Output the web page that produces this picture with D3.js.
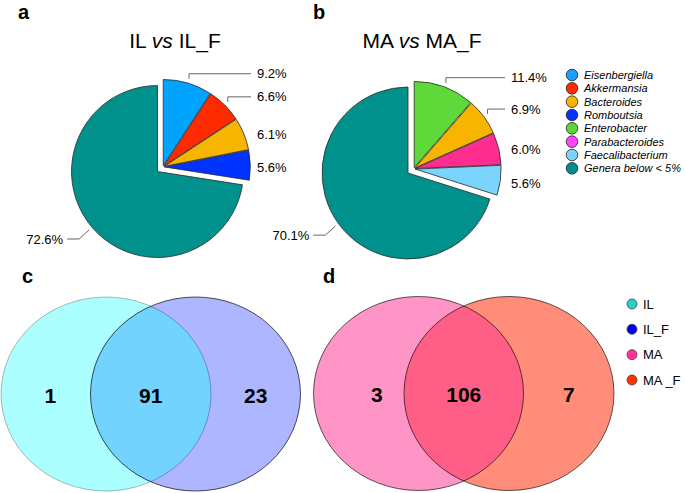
<!DOCTYPE html>
<html><head><meta charset="utf-8">
<script src="https://cdn.jsdelivr.net/npm/d3@7"></script>
<style>
html,body{margin:0;padding:0;background:#fff;}
svg{display:block;font-family:"Liberation Sans",Arial,sans-serif;}
</style></head>
<body>
<svg id="chart" width="685" height="493"></svg>
<script>
// ---------- DATA ----------
const genera = ["Eisenbergiella","Akkermansia","Bacteroides","Romboutsia","Enterobacter","Parabacteroides","Faecalibacterium","Genera below < 5%"];
const generaLegendColors = ["#1a9fff","#ff2a00","#f7b500","#0033ff","#5ed63a","#ff44ff","#7dd3fc","#008e8a"];
const generaSliceColors  = ["#00a4ff","#ff2a00","#f7b500","#0033ff","#5fd93a","#ff2d8f","#7ad4fb","#00918d"];

const pieATitle = ["IL ","vs"," IL_F"];
const pieAGenera = ["Eisenbergiella","Akkermansia","Bacteroides","Romboutsia","Genera below < 5%"];
const pieAValues = [9.2, 6.6, 6.1, 5.6, 72.6];

const pieBTitle = ["MA ","vs"," MA_F"];
const pieBGenera = ["Enterobacter","Bacteroides","Parabacteroides","Faecalibacterium","Genera below < 5%"];
const pieBValues = [11.4, 6.9, 6.0, 5.6, 70.1];

const vennCSets = ["IL","IL_F"];
const vennCCounts = [1, 91, 23];
const vennDSets = ["MA","MA _F"];
const vennDCounts = [3, 106, 7];

const vennLegendLabels = ["IL","IL_F","MA","MA _F"];
const vennLegendColors = ["#22d0d0","#0000ee","#ff3399","#ff3300"];

const panelLetters = ["a","b","c","d"];

// ---------- DRAW ----------
const svg = d3.select("#chart");
const colorOf = d3.scaleOrdinal().domain(genera).range(generaSliceColors);
const legendColorOf = d3.scaleOrdinal().domain(genera).range(generaLegendColors);
const OTHER = "Genera below < 5%";

// panel letters
const letterPos = [[18,19],[313,19],[22,283],[323,283]];
svg.selectAll("text.letter").data(panelLetters).join("text")
  .attr("class","letter")
  .attr("x",(d,i)=>letterPos[i][0]).attr("y",(d,i)=>letterPos[i][1])
  .attr("font-size",20).attr("font-weight","bold").text(d=>d);

function drawTitle(parts, cx, y){
  const t = svg.append("text").attr("x",cx).attr("y",y).attr("text-anchor","middle")
    .attr("font-size",21).attr("fill","#000");
  parts.forEach((p,i)=>t.append("tspan").attr("font-style", i===1?"italic":"normal").text(p));
}

function drawPie(names, values, cx, cy, r, labelX){
  const data = names.map((n,i)=>({name:n, v:values[i]}));
  const arcs = d3.pie().sort(null).value(d=>d.v)(data);
  const arc = d3.arc().innerRadius(0).outerRadius(r);
  const small = arcs.filter(a=>a.data.name!==OTHER);
  const gStart = small[0].startAngle, gEnd = small[small.length-1].endAngle;
  const gMid = (gStart+gEnd)/2, gOff = 7;
  const gx = Math.sin(gMid)*gOff, gy = -Math.cos(gMid)*gOff;
  const g = svg.append("g").attr("transform",`translate(${cx},${cy})`);
  const indiv = 1.5;
  g.selectAll("path").data(arcs).join("path")
    .attr("d",arc)
    .attr("transform",a=>{
      if(a.data.name===OTHER) return null;
      const m=(a.startAngle+a.endAngle)/2;
      return `translate(${gx+Math.sin(m)*indiv},${gy-Math.cos(m)*indiv})`;
    })
    .attr("fill",a=>colorOf(a.data.name))
    .attr("stroke","#2a2a2a").attr("stroke-width",0.8).attr("stroke-linejoin","round");

  // labels
  arcs.forEach(a=>{
    const m=(a.startAngle+a.endAngle)/2;
    const lbl = d3.format(".1f")(a.data.v)+"%";
    if(a.data.name===OTHER){
      const px = Math.sin(m)*(r+4), py = -Math.cos(m)*(r+4);
      const ly = py+9;
      g.append("path").attr("d",`M${px},${py}L${px-10},${ly}L${px-22},${ly}`)
        .attr("fill","none").attr("stroke","#666").attr("stroke-width",1);
      g.append("text").attr("x",px-26).attr("y",ly).attr("dy","0.35em")
        .attr("text-anchor","end").attr("font-size",13).text(lbl);
    } else {
      const px = gx+Math.sin(m)*(r+6), py = gy-Math.cos(m)*(r+6);
      const lx = labelX - cx;
      let ly;
      if(lx-px>10){
        ly = py-5;
        g.append("path").attr("d",`M${px},${py}L${px},${ly}L${lx-6},${ly}`)
          .attr("fill","none").attr("stroke","#666").attr("stroke-width",1);
      } else {
        ly = py+2;
      }
      g.append("text").attr("x",lx).attr("y",ly).attr("dy","0.35em")
        .attr("font-size",13).text(lbl);
    }
  });
}

drawTitle(pieATitle,175,48);
drawTitle(pieBTitle,422,48);
drawPie(pieAGenera,pieAValues,157.5,171.5,86,257);
drawPie(pieBGenera,pieBValues,408,173,86,511);

// pie legend
const ly = d3.scalePoint().domain(genera).range([75,168.3]);
const lg = svg.append("g");
lg.selectAll("circle").data(genera).join("circle")
  .attr("cx",572).attr("cy",d=>ly(d)).attr("r",5.8)
  .attr("fill",d=>legendColorOf(d)).attr("stroke","#222").attr("stroke-width",0.8);
lg.selectAll("text").data(genera).join("text")
  .attr("x",584).attr("y",d=>ly(d)).attr("dy","0.36em")
  .attr("font-size",11).attr("font-style","italic").text(d=>d);

// Venn
let clipId=0;
function drawVenn(cxL, cxR, cy, rx, ry, fills, strokes, counts, leftFrac){
  const g = svg.append("g");
  const id = "clip"+(clipId++);
  g.append("clipPath").attr("id",id).append("ellipse")
    .attr("cx",cxL).attr("cy",cy).attr("rx",rx).attr("ry",ry);
  g.append("ellipse").attr("cx",cxL).attr("cy",cy).attr("rx",rx).attr("ry",ry).attr("fill",fills[0]);
  g.append("ellipse").attr("cx",cxR).attr("cy",cy).attr("rx",rx).attr("ry",ry).attr("fill",fills[1]);
  g.append("ellipse").attr("cx",cxR).attr("cy",cy).attr("rx",rx).attr("ry",ry).attr("fill",fills[2])
    .attr("clip-path",`url(#${id})`);
  g.append("ellipse").attr("cx",cxL).attr("cy",cy).attr("rx",rx).attr("ry",ry)
    .attr("fill","none").attr("stroke",strokes[0]).attr("stroke-width",0.9);
  g.append("ellipse").attr("cx",cxR).attr("cy",cy).attr("rx",rx).attr("ry",ry)
    .attr("fill","none").attr("stroke",strokes[1]).attr("stroke-width",0.9);
  const a = cxL-rx, b = cxR-rx, c = cxL+rx, e = cxR+rx;
  const xs = [a+(b-a)*leftFrac, (b+c)/2, (c+e)/2];
  g.selectAll("text").data(counts).join("text")
    .attr("x",(d,i)=>xs[i]).attr("y",cy+1).attr("dy","0.36em")
    .attr("text-anchor","middle").attr("font-size",21).attr("font-weight","bold").text(d=>d);
}
drawVenn(106,195.5,394,105,97,["#abfffe","#adb6ff","#72d3ff"],["rgba(0,0,0,0.3)","rgba(0,0,0,0.75)"],vennCCounts,0.55);
drawVenn(418.5,509,393.5,105,97,["#ff94c7","#ff8d79","#ff5f87"],["rgba(0,0,0,0.7)","rgba(0,0,0,0.7)"],vennDCounts,0.7);

// Venn legend
const vy = d3.scalePoint().domain(vennLegendLabels).range([304,380]);
const vg = svg.append("g");
vg.selectAll("circle").data(vennLegendLabels).join("circle")
  .attr("cx",632).attr("cy",d=>vy(d)).attr("r",5)
  .attr("fill",(d,i)=>vennLegendColors[i]).attr("stroke","#333").attr("stroke-width",0.7);
vg.selectAll("text").data(vennLegendLabels).join("text")
  .attr("x",643).attr("y",d=>vy(d)).attr("dy","0.36em")
  .attr("font-size",13).text(d=>d);
</script>
</body></html>
